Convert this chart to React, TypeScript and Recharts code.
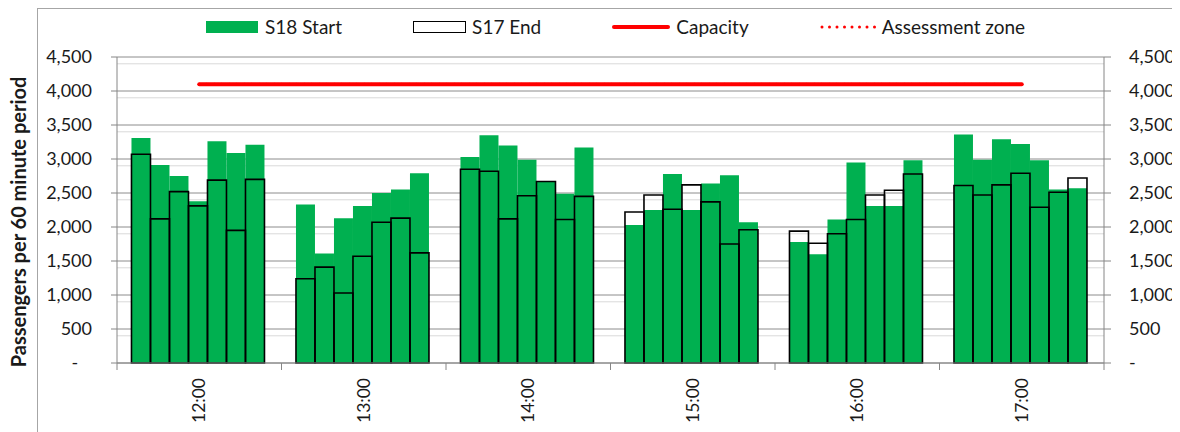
import { ComposedChart, Bar, Line, XAxis, YAxis, CartesianGrid } from 'recharts'

const hours = ['12:00', '13:00', '14:00', '15:00', '16:00', '17:00']

// seven rolling periods per hour
const s18Start = [
  [3310, 2910, 2750, 2380, 3260, 3090, 3210],
  [2330, 1610, 2130, 2310, 2500, 2550, 2790],
  [3030, 3350, 3200, 2990, 2660, 2490, 3170],
  [2030, 2250, 2780, 2250, 2640, 2760, 2070],
  [1780, 1600, 2110, 2950, 2310, 2310, 2980],
  [3360, 2990, 3290, 3220, 2980, 2550, 2570],
]
const s17End = [
  [3070, 2120, 2520, 2310, 2690, 1950, 2700],
  [1240, 1410, 1030, 1570, 2070, 2130, 1620],
  [2850, 2820, 2120, 2460, 2670, 2110, 2450],
  [2220, 2470, 2260, 2620, 2370, 1750, 1960],
  [1940, 1760, 1900, 2110, 2470, 2540, 2780],
  [2610, 2470, 2620, 2790, 2290, 2510, 2720],
]
const capacity = [4100, 4100, 4100, 4100, 4100, 4100]
const assessment = [4100, 4100, 4100, 4100, 4100, 4100]

const yTicks = [0, 500, 1000, 1500, 2000, 2500, 3000, 3500, 4000, 4500]
const minorLines = Array.from({ length: 45 }, (_, i) => i * 100).filter((v) => v % 500 !== 0)

const GREEN = '#00b050'
const AXIS = '#868686'
const FONT = 'Lato, "Open Sans", sans-serif'
const periods = [0, 1, 2, 3, 4, 5, 6]

const data = hours.map((hour, i) => {
  const row: Record<string, any> = { hour, capacity: capacity[i], assessment: assessment[i] }
  periods.forEach((p) => {
    row[`s18_${p}`] = s18Start[i][p]
    row[`s17_${p}`] = s17End[i][p]
  })
  return row
})

const fmtLeft = (v: number) => (v === 0 ? '-\u00A0\u00A0\u00A0' : v.toLocaleString('en-US'))
const fmtRight = (v: number) => (v === 0 ? '-' : v.toLocaleString('en-US'))

function HourTick(props: any) {
  const { x, y, payload, index, width, visibleTicksCount } = props
  const half = width && visibleTicksCount ? width / visibleTicksCount / 2 : payload.offset
  const last = index === visibleTicksCount - 1
  return (
    <g>
      <line x1={x - half} y1={y} x2={x - half} y2={y + 7} stroke={AXIS} />
      {last && <line x1={x + half} y1={y} x2={x + half} y2={y + 7} stroke={AXIS} />}
      <text
        x={x}
        y={y + 15}
        dy="0.35em"
        textAnchor="end"
        transform={`rotate(-90, ${x}, ${y + 15})`}
        fontSize={17.5}
        fontFamily={FONT}
        fill="#1a1a1a"
      >
        {payload.value}
      </text>
    </g>
  )
}

function LegendRow() {
  const item = { display: 'flex', alignItems: 'center', gap: 6 }
  return (
    <div
      style={{
        position: 'absolute', left: 198, top: 7, display: 'flex', gap: 71,
        fontFamily: FONT, fontSize: 19, color: '#1a1a1a',
      }}
    >
      <div style={item}>
        <svg width={53} height={14}><rect x={0} y={1} width={52} height={12} fill={GREEN} /></svg>
        <span>S18 Start</span>
      </div>
      <div style={item}>
        <svg width={53} height={14}><rect x={0.5} y={1.5} width={52} height={11} fill="#fff" stroke="#000" /></svg>
        <span>S17 End</span>
      </div>
      <div style={item}>
        <svg width={58} height={14}><line x1={2} y1={7} x2={56} y2={7} stroke="#ff0000" strokeWidth={4} strokeLinecap="round" /></svg>
        <span>Capacity</span>
      </div>
      <div style={item}>
        <svg width={56} height={14}><line x1={2} y1={7} x2={55} y2={7} stroke="#ff0000" strokeWidth={3} strokeDasharray="0 7.5" strokeLinecap="round" /></svg>
        <span>Assessment zone</span>
      </div>
    </div>
  )
}

export default function App() {
  return (
    <div style={{ position: 'relative', width: 1172, height: 424, fontFamily: FONT }}>
      <div style={{ position: 'absolute', left: 29, top: 0, right: 0, bottom: 0, borderTop: '1px solid #a6a6a6', borderLeft: '1px solid #a6a6a6' }} />
      <div
        style={{
          position: 'absolute', left: 10, top: 214, transform: 'translate(-50%, -50%) rotate(-90deg)',
          whiteSpace: 'nowrap', fontWeight: 700, fontSize: 20, color: '#1a1a1a',
        }}
      >
        Passengers per 60 minute period
      </div>
      <LegendRow />
      <div style={{ position: 'absolute', left: 0, top: 0 }}>
        <ComposedChart
          width={1172}
          height={424}
          data={data}
          margin={{ top: 49, right: 6, bottom: 9, left: 29 }}
          barCategoryGap="8.8%"
          barGap={0}
        >
          <CartesianGrid yAxisId="left" xAxisId="s18" vertical={false} horizontalValues={minorLines} stroke="#d9d9d9" />
          <CartesianGrid yAxisId="left" xAxisId="s18" vertical={false} horizontalValues={yTicks} stroke="#8c8c8c" />
          <XAxis
            xAxisId="s18"
            dataKey="hour"
            height={60}
            interval={0}
            tickSize={0}
            tickMargin={0}
            tickLine={false}
            axisLine={{ stroke: AXIS }}
            tick={<HourTick />}
          />
          <XAxis xAxisId="s17" dataKey="hour" hide height={0} />
          <YAxis
            yAxisId="left"
            width={80}
            domain={[0, 4500]}
            ticks={yTicks}
            tickFormatter={fmtLeft}
            tickSize={6}
            tickMargin={19}
            axisLine={{ stroke: AXIS }}
            tickLine={{ stroke: AXIS }}
            tick={{ fill: '#1a1a1a', fontSize: 18, fontFamily: FONT }}
          />
          <YAxis
            yAxisId="right"
            orientation="right"
            width={70}
            domain={[0, 4500]}
            ticks={yTicks}
            tickFormatter={fmtRight}
            tickSize={7}
            tickMargin={18}
            axisLine={{ stroke: AXIS }}
            tickLine={{ stroke: AXIS }}
            tick={{ fill: '#1a1a1a', fontSize: 18, fontFamily: FONT, textAnchor: 'start' }}
          />
          {periods.map((p) => (
            <Bar key={`s18_${p}`} xAxisId="s18" yAxisId="left" dataKey={`s18_${p}`} fill={GREEN} isAnimationActive={false} />
          ))}
          {periods.map((p) => (
            <Bar
              key={`s17_${p}`}
              xAxisId="s17"
              yAxisId="right"
              dataKey={`s17_${p}`}
              fill="none"
              stroke="#000"
              strokeWidth={1.6}
              isAnimationActive={false}
            />
          ))}
          <Line
            xAxisId="s18"
            yAxisId="left"
            dataKey="capacity"
            stroke="#ff0000"
            strokeWidth={4}
            strokeLinecap="round"
            dot={false}
            activeDot={false}
            isAnimationActive={false}
          />
          <Line
            xAxisId="s18"
            yAxisId="left"
            dataKey="assessment"
            stroke="#ff0000"
            strokeWidth={3}
            strokeDasharray="0 7.5"
            strokeLinecap="round"
            dot={false}
            activeDot={false}
            isAnimationActive={false}
          />
        </ComposedChart>
      </div>
    </div>
  )
}
